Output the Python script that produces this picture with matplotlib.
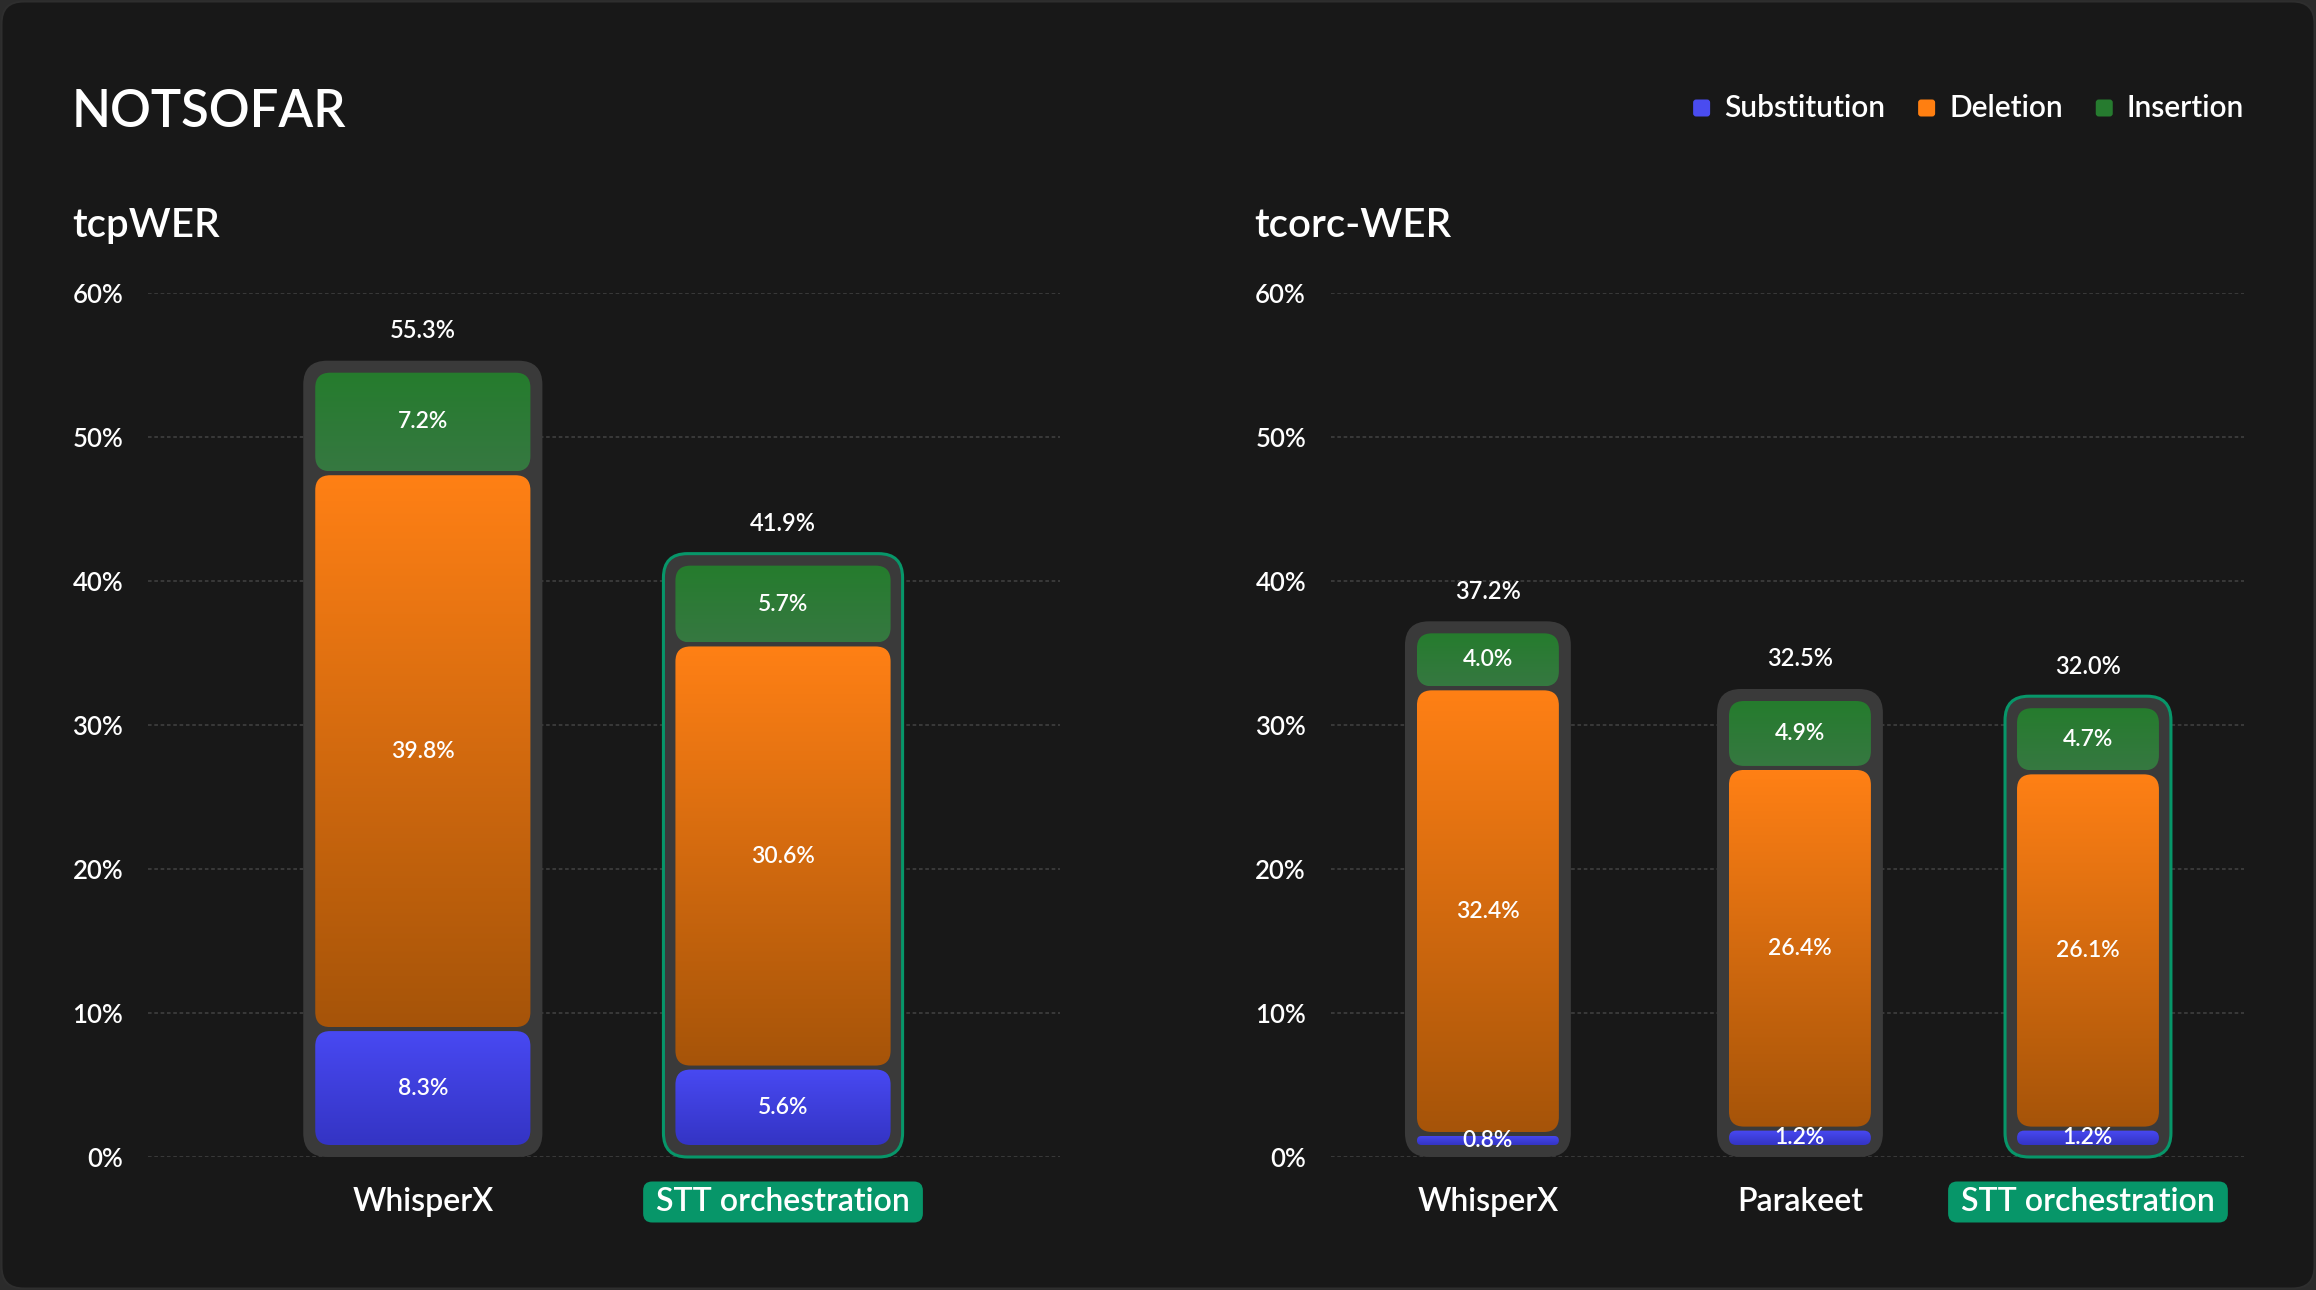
import matplotlib
matplotlib.use("Agg")  # headless
import matplotlib.pyplot as plt
import numpy as np
from matplotlib.colors import to_rgb
from matplotlib.patches import FancyBboxPatch
from matplotlib.transforms import IdentityTransform, offset_copy

# Data (WER breakdown in %)
SEGMENT_NAMES = ["Substitution", "Deletion", "Insertion"]

TCP_MODELS = ["WhisperX", "STT orchestration"]
TCP_SUB = [8.3, 5.6]
TCP_DEL = [39.8, 30.6]
TCP_INS = [7.2, 5.7]
TCP_TOTAL = [55.3, 41.9]

TCORC_MODELS = ["WhisperX", "Parakeet", "STT orchestration"]
TCORC_SUB = [0.8, 1.2, 1.2]
TCORC_DEL = [32.4, 26.4, 26.1]
TCORC_INS = [4.0, 4.9, 4.7]
TCORC_TOTAL = [37.2, 32.5, 32.0]

Y_TICKS = [0, 10, 20, 30, 40, 50, 60]
HIGHLIGHT = "STT orchestration"

# Style
W, H, DPI = 2316, 1290, 100
BG = "#181818"
BOX_COLOR = "#3a3a3a"
GRID = "#3c3c3c"
ACCENT = "#079669"
TEXT = "#ffffff"
GRADIENTS = [("#4849f2", "#3434c4"), ("#ff8015", "#a65409"), ("#257c2d", "#367841")]
LEGEND_COLORS = ["#4a4cf0", "#ff7f11", "#267b2f"]
PAD, GAP, BOX_R, SEG_R = 12, 4, 24, 15

plt.rcParams["font.family"] = ["Lato", "DejaVu Sans"]
plt.rcParams["font.weight"] = "semibold"

ident = IdentityTransform()
fig = plt.figure(figsize=(W / DPI, H / DPI), dpi=DPI, facecolor="#2b2b2b")
renderer = fig.canvas.get_renderer()

card = FancyBboxPatch((1.5, 1.5), W - 3, H - 3, boxstyle="round,pad=0,rounding_size=22",
                      transform=ident, fc=BG, ec="#2e2e2e", lw=1.5, zorder=-10)
fig.add_artist(card)


def gradient(c_top, c_bot, n=256):
    t = np.linspace(0, 1, n)[:, None]
    arr = (1 - t) * np.array(to_rgb(c_top)) + t * np.array(to_rgb(c_bot))
    return arr[:, None, :]


def draw_panel(rect, title, title_x, models, sub, dele, ins, totals, positions, xlim, box_w):
    ax = fig.add_axes(rect)
    ax.set_xlim(*xlim)
    ax.set_ylim(0, 60)
    ax.set_autoscale_on(False)
    ax.patch.set_visible(False)
    for s in ax.spines.values():
        s.set_visible(False)
    ax.set_xticks([])
    ax.set_yticks(Y_TICKS)
    ax.set_yticklabels([f"{t}%" for t in Y_TICKS])
    ax.tick_params(axis="y", length=0, pad=18, labelsize=18.5, labelcolor=TEXT)
    ax.grid(axis="y", color=GRID, lw=1.3, ls=(0, (2, 1.5)))
    ax.set_axisbelow(True)

    fig.text(title_x, H - 237, title, transform=ident, fontsize=29, color=TEXT, va="baseline")

    inv = ax.transData.inverted()
    for i, name in enumerate(models):
        cx = positions[i]
        hl = name == HIGHLIGHT
        x0, y0 = ax.transData.transform((cx - box_w / 2, 0))
        x1, y1 = ax.transData.transform((cx + box_w / 2, totals[i]))
        box = FancyBboxPatch((x0, y0), x1 - x0, y1 - y0,
                             boxstyle=f"round,pad=0,rounding_size={BOX_R}",
                             transform=ident, fc=BOX_COLOR,
                             ec=ACCENT if hl else "none", lw=2.2 if hl else 0,
                             zorder=2, clip_on=False)
        ax.add_patch(box)

        # stacked segments inside the box
        vals = [sub[i], dele[i], ins[i]]
        ix0, ix1 = x0 + PAD, x1 - PAD
        iy0, iy1 = y0 + PAD, y1 - PAD
        scale = (iy1 - iy0) / sum(vals)
        edges = iy0 + np.concatenate([[0], np.cumsum(vals)]) * scale
        for k, v in enumerate(vals):
            b = edges[k] + (GAP / 2 if k > 0 else 0)
            t = edges[k + 1] - (GAP / 2 if k < len(vals) - 1 else 0)
            r = min(SEG_R, (t - b) / 2)
            seg = FancyBboxPatch((ix0, b), ix1 - ix0, t - b,
                                 boxstyle=f"round,pad=0,rounding_size={r}",
                                 transform=ident, fc="none", ec="none")
            dx0, dy0 = inv.transform((ix0, b))
            dx1, dy1 = inv.transform((ix1, t))
            im = ax.imshow(gradient(*GRADIENTS[k]), extent=(dx0, dx1, dy0, dy1),
                           aspect="auto", origin="upper", interpolation="bilinear", zorder=3)
            im.set_clip_path(seg)
            ax.text((ix0 + ix1) / 2, (b + t) / 2, f"{v:.1f}%", transform=ident,
                    ha="center", va="center", fontsize=16.5, color=TEXT, zorder=5)

        ax.text(cx, totals[i], f"{totals[i]:.1f}%",
                transform=offset_copy(ax.transData, fig, y=30, units="dots"),
                ha="center", va="center", fontsize=17, color=TEXT)

        lbl = ax.text(cx, 0, name, transform=offset_copy(ax.transData, fig, y=-45, units="dots"),
                      ha="center", va="center", fontsize=23, color=TEXT, zorder=5, clip_on=False)
        if hl:
            bb = lbl.get_window_extent(renderer)
            px, py = ax.transData.transform((cx, 0))
            py -= 45
            pw = bb.width + 26
            pill = FancyBboxPatch((px - pw / 2, py - 20.5), pw, 41,
                                  boxstyle="round,pad=0,rounding_size=9",
                                  transform=ident, fc=ACCENT, ec="none", zorder=4, clip_on=False)
            ax.add_patch(pill)
    return ax


# left panel: tcpWER
draw_panel([148 / W, (H - 1157) / H, 912 / W, 864 / H], "tcpWER", 72,
           TCP_MODELS, TCP_SUB, TCP_DEL, TCP_INS, TCP_TOTAL,
           positions=[0, 1], xlim=(-0.763, 1.769), box_w=0.664)

# right panel: tcorc-WER
draw_panel([1331 / W, (H - 1157) / H, 913 / W, 864 / H], "tcorc-WER", 1254,
           TCORC_MODELS, TCORC_SUB, TCORC_DEL, TCORC_INS, TCORC_TOTAL,
           positions=[0, 1.04, 2], xlim=(-0.523, 2.52), box_w=0.553)

# title
fig.text(72, H - 127, "NOTSOFAR", transform=ident, fontsize=36.5, color=TEXT, va="baseline")

# legend, laid out right to left
x = 2244
ly = H - 108
for name, col in reversed(list(zip(SEGMENT_NAMES, LEGEND_COLORS))):
    t = fig.text(x, ly, name, transform=ident, fontsize=21.5, color=TEXT, ha="right", va="center")
    w = t.get_window_extent(renderer).width
    sx = x - w - 14 - 17
    fig.add_artist(FancyBboxPatch((sx, ly - 8.5), 17, 17, boxstyle="round,pad=0,rounding_size=3",
                                  transform=ident, fc=col, ec="none"))
    x = sx - 33

fig.savefig("out.png", dpi=DPI, facecolor=fig.get_facecolor())
